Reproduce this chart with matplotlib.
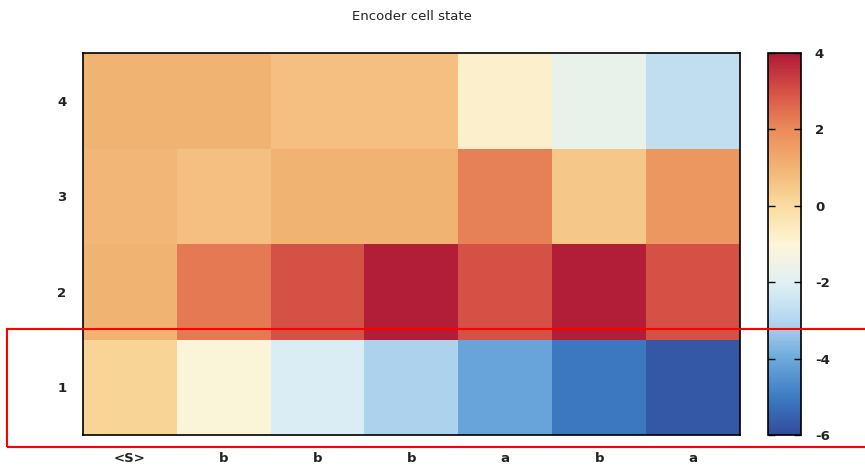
import numpy as np
import matplotlib
matplotlib.use("Agg")
import matplotlib.pyplot as plt
from matplotlib.colors import LinearSegmentedColormap
from matplotlib.patches import Rectangle

plt.rcParams["axes.unicode_minus"] = False

tokens = ["<S>", "b", "b", "b", "a", "b", "a"]
units = ["1", "2", "3", "4"]
# one row per cell unit, bottom (1) to top (4)
unit1 = [0.2, -1.1, -2.1, -3.1, -4.1, -5.1, -5.7]
unit2 = [1.0, 2.3, 3.0, 3.9, 3.0, 3.9, 3.0]
unit3 = [0.9, 0.7, 1.0, 1.0, 2.2, 0.5, 1.7]
unit4 = [1.0, 1.0, 0.7, 0.7, -0.8, -1.7, -2.7]
cbar_ticks = [4, 2, 0, -2, -4, -6]

state = np.array([unit1, unit2, unit3, unit4])

# palette sampled off the colour box, -6 .. 4
pal = [(50, 75, 155), (60, 125, 195), (110, 170, 220), (180, 215, 240),
       (225, 240, 245), (253, 245, 215), (250, 220, 160), (242, 180, 115),
       (235, 140, 90), (214, 82, 70), (175, 25, 55)]
cmap = LinearSegmentedColormap.from_list("enc", [tuple(c / 255 for c in p) for p in pal])

fig = plt.figure(figsize=(8.65, 4.69), dpi=100)
ax = fig.add_axes([83 / 865, 1 - 435 / 469, 657 / 865, 382 / 469])
im = ax.imshow(state, origin="lower", aspect="auto", cmap=cmap, vmin=-6, vmax=4,
               interpolation="nearest")
ax.set_xticks(range(len(tokens)))
ax.set_xticklabels(tokens)
ax.set_yticks(range(len(units)))
ax.set_yticklabels(units)
ax.tick_params(length=0, labelsize=9.5, pad=12)
for lab in ax.get_xticklabels() + ax.get_yticklabels():
    lab.set_fontweight("bold")
    lab.set_color("#222222")
for s in ax.spines.values():
    s.set_linewidth(1.2)
ax.set_title("Encoder cell state", fontsize=9.5, pad=24, color="#222222")

cax = fig.add_axes([768 / 865, 1 - 435 / 469, 33 / 865, 382 / 469])
cb = fig.colorbar(im, cax=cax, ticks=cbar_ticks)
cb.outline.set_linewidth(1.2)
cax.tick_params(direction="in", left=True, right=True, length=5, width=1,
                labelsize=9.5, pad=10)
for lab in cax.get_yticklabels():
    lab.set_fontweight("bold")
    lab.set_color("#222222")

# red highlight box round the first row
fig.add_artist(Rectangle((7 / 865, 1 - 447 / 469), 870 / 865, 118 / 469,
                         transform=fig.transFigure, fill=False,
                         edgecolor="red", linewidth=1.5, clip_on=False))

fig.savefig("out.png", dpi=100)
